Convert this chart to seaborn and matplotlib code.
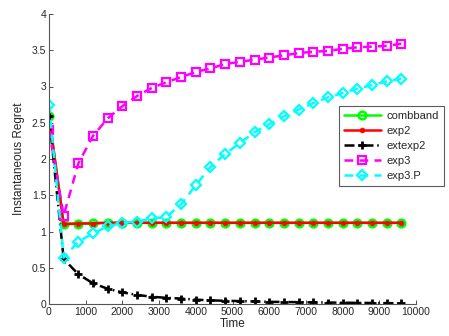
import numpy as np
import pandas as pd
import matplotlib
matplotlib.use("Agg")
import matplotlib.pyplot as plt
import seaborn as sns

time = [0, 400, 800, 1200, 1600, 2000, 2400, 2800, 3200, 3600, 4000, 4400, 4800,
        5200, 5600, 6000, 6400, 6800, 7200, 7600, 8000, 8400, 8800, 9200, 9600]

combband = [2.60, 1.11, 1.11, 1.12, 1.12, 1.12, 1.12, 1.12, 1.12, 1.12, 1.12, 1.12, 1.12,
            1.12, 1.12, 1.12, 1.12, 1.12, 1.12, 1.12, 1.12, 1.12, 1.12, 1.12, 1.12]
exp2 = [2.60, 1.10, 1.11, 1.11, 1.12, 1.12, 1.12, 1.12, 1.12, 1.12, 1.12, 1.12, 1.12,
        1.12, 1.12, 1.12, 1.12, 1.12, 1.12, 1.12, 1.12, 1.12, 1.12, 1.12, 1.12]
extexp2 = [2.60, 0.62, 0.41, 0.285, 0.21, 0.16, 0.125, 0.10, 0.085, 0.075, 0.06, 0.05, 0.045,
           0.04, 0.035, 0.03, 0.028, 0.025, 0.022, 0.02, 0.018, 0.016, 0.014, 0.012, 0.01]
exp3 = [2.40, 1.22, 1.94, 2.32, 2.56, 2.73, 2.87, 2.98, 3.06, 3.13, 3.20, 3.25, 3.31,
        3.34, 3.37, 3.40, 3.43, 3.46, 3.48, 3.49, 3.52, 3.54, 3.55, 3.56, 3.59]
exp3p = [2.75, 0.64, 0.86, 0.975, 1.07, 1.12, 1.135, 1.18, 1.20, 1.375, 1.64, 1.89, 2.07,
         2.22, 2.37, 2.48, 2.59, 2.68, 2.77, 2.85, 2.91, 2.97, 3.02, 3.07, 3.11]

series = {
    "combband": combband,
    "exp2": exp2,
    "extexp2": extexp2,
    "exp3": exp3,
    "exp3.P": exp3p,
}

# marker/line styles applied after seaborn draws each line
styles = {
    "combband": dict(color="#00ff00", linestyle="-", marker="o", markersize=5.5,
                     markerfacecolor="none", markeredgecolor="#00ff00", markeredgewidth=1.8),
    "exp2": dict(color="#ff0000", linestyle="-", marker="o", markersize=3.5,
                 markerfacecolor="#ff0000", markeredgecolor="#ff0000", markeredgewidth=0.5),
    "extexp2": dict(color="black", linestyle=(0, (4, 1.5, 0.6, 1.5)), marker="+", markersize=6,
                    markeredgecolor="black", markeredgewidth=2),
    "exp3": dict(color="#ff00ff", linestyle=(0, (3.5, 2.5)), marker="s", markersize=5.2,
                 markerfacecolor="none", markeredgecolor="#ff00ff", markeredgewidth=1.6),
    "exp3.P": dict(color="#00ffff", linestyle=(0, (3.5, 2.5)), marker="D", markersize=4.8,
                   markerfacecolor="none", markeredgecolor="#00ffff", markeredgewidth=1.6),
}

sns.set_theme(style="white")
plt.rcParams['font.family'] = ['Liberation Sans', 'DejaVu Sans']
plt.rcParams['xtick.direction'] = 'in'
plt.rcParams['ytick.direction'] = 'in'

fig = plt.figure(figsize=(4.49, 3.36), dpi=100)
ax = fig.add_axes([49 / 449, 1 - 304 / 336, 367 / 449, 290 / 336])

for name, vals in series.items():
    df = pd.DataFrame({"Time": time, "value": vals})
    sns.lineplot(data=df, x="Time", y="value", ax=ax, label=name, linewidth=1.8)
    ax.lines[-1].set(**styles[name])

ax.set_xlim(0, 10000)
ax.set_ylim(0, 4)
ax.set_xticks(np.arange(0, 10001, 1000))
ax.set_yticks(np.arange(0, 4.01, 0.5))
ax.set_yticklabels(["0", "0.5", "1", "1.5", "2", "2.5", "3", "3.5", "4"])
ax.tick_params(labelsize=7.5, length=3, width=0.6, color="#333333",
               bottom=True, left=True, pad=2)
ax.set_xlabel("Time", fontsize=8.5, labelpad=1)
ax.set_ylabel("Instantaneous Regret", fontsize=8.5, labelpad=5)
for s in ["top", "right"]:
    ax.spines[s].set_visible(False)
for s in ["left", "bottom"]:
    ax.spines[s].set_color("#555555")
    ax.spines[s].set_linewidth(0.8)

handles, labels = ax.get_legend_handles_labels()
leg = ax.legend(handles, labels, loc="upper left", bbox_to_anchor=(290 / 367, 198 / 290),
                fontsize=8, frameon=True, fancybox=False, handlelength=3.3,
                borderpad=0.45, labelspacing=0.45, handletextpad=0.5,
                borderaxespad=0)
leg.get_frame().set_edgecolor("#333333")
leg.get_frame().set_linewidth(0.8)

fig.savefig("out.png", dpi=100)
